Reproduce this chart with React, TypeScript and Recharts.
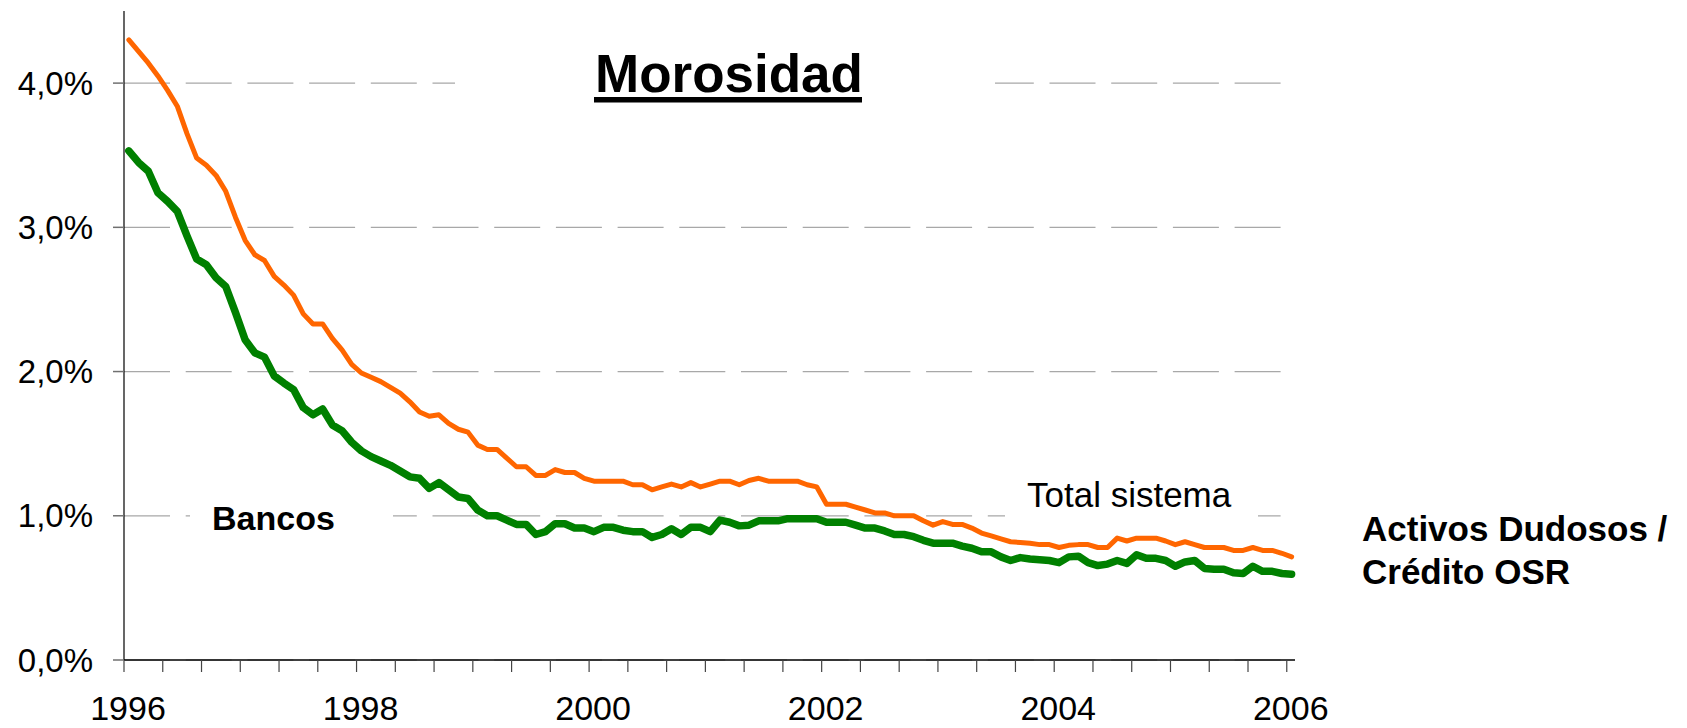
import { LineChart, Line, XAxis, YAxis, CartesianGrid } from 'recharts'

// morosidad mensual, ene-1996 .. ene-2006, en %
const bancos = [
  3.53, 3.45, 3.39, 3.24, 3.18, 3.11, 2.94, 2.78, 2.74, 2.65, 2.59, 2.41,
  2.22, 2.13, 2.10, 1.97, 1.92, 1.875, 1.75, 1.70, 1.74, 1.63, 1.59, 1.51,
  1.45, 1.41, 1.38, 1.35, 1.31, 1.27, 1.26, 1.19, 1.23, 1.18, 1.13, 1.12,
  1.04, 1.00, 1.00, 0.97, 0.94, 0.94, 0.87, 0.89, 0.945, 0.945, 0.915, 0.915,
  0.89, 0.92, 0.92, 0.90, 0.89, 0.89, 0.85, 0.87, 0.91, 0.87, 0.92, 0.92,
  0.89, 0.97, 0.955, 0.93, 0.935, 0.965, 0.965, 0.965, 0.98, 0.98, 0.98, 0.98,
  0.955, 0.955, 0.955, 0.935, 0.915, 0.915, 0.895, 0.87, 0.87, 0.855, 0.83, 0.81,
  0.81, 0.81, 0.79, 0.775, 0.75, 0.75, 0.715, 0.69, 0.71, 0.70, 0.695, 0.69,
  0.675, 0.715, 0.72, 0.675, 0.655, 0.665, 0.69, 0.67, 0.73, 0.705, 0.705, 0.69,
  0.65, 0.68, 0.69, 0.635, 0.63, 0.63, 0.605, 0.60, 0.65, 0.615, 0.615, 0.60,
  0.595,
]

const totalSistema = [
  4.30, 4.22, 4.14, 4.05, 3.95, 3.84, 3.65, 3.48, 3.43, 3.36, 3.25, 3.07,
  2.91, 2.81, 2.77, 2.66, 2.60, 2.53, 2.40, 2.33, 2.33, 2.23, 2.15, 2.05,
  1.99, 1.96, 1.93, 1.89, 1.85, 1.79, 1.72, 1.69, 1.70, 1.64, 1.60, 1.58,
  1.49, 1.46, 1.46, 1.40, 1.34, 1.34, 1.28, 1.28, 1.32, 1.30, 1.30, 1.26,
  1.24, 1.24, 1.24, 1.24, 1.215, 1.215, 1.18, 1.20, 1.22, 1.20, 1.23, 1.20,
  1.22, 1.24, 1.24, 1.215, 1.245, 1.26, 1.24, 1.24, 1.24, 1.24, 1.215, 1.20,
  1.08, 1.08, 1.08, 1.06, 1.04, 1.02, 1.02, 1.00, 1.00, 1.00, 0.965, 0.935,
  0.96, 0.94, 0.94, 0.915, 0.88, 0.86, 0.84, 0.82, 0.815, 0.81, 0.80, 0.80,
  0.78, 0.795, 0.80, 0.80, 0.78, 0.78, 0.845, 0.825, 0.845, 0.845, 0.845, 0.825,
  0.80, 0.82, 0.80, 0.78, 0.78, 0.78, 0.76, 0.76, 0.78, 0.76, 0.76, 0.74,
  0.715,
]

const yearLabels = ['1996', '1998', '2000', '2002', '2004', '2006']
const yTicks = [0, 1, 2, 3, 4]

// x = meses desde ene-1996, punto a mitad de mes
const data = bancos.map((b, i) => ({ x: i + 0.5, bancos: b, total: totalSistema[i] }))
const xTicks = Array.from({ length: 31 }, (_, i) => i * 4)

const FONT = '"Liberation Sans", Arial, sans-serif'

function YearTick(props: any) {
  const { x, y, payload } = props
  const idx = payload.value / 24
  if (!Number.isInteger(idx)) return <g />
  return (
    <text x={x + 4} y={y + 48} textAnchor="middle" fontSize={34} fontFamily={FONT} fill="#000">
      {yearLabels[idx]}
    </text>
  )
}

export default function App() {
  return (
    <div style={{ position: 'absolute', left: 0, top: 0, width: 1687, height: 728, background: '#fff', fontFamily: FONT }}>
      <LineChart width={1687} height={728} data={data} margin={{ top: 11, right: 392, left: 0, bottom: 0 }}>
        <CartesianGrid
          vertical={false}
          horizontalValues={yTicks}
          stroke="#a8a8a8"
          strokeWidth={1.2}
          strokeDasharray="46 15.7"
        />
        <XAxis
          dataKey="x"
          type="number"
          domain={[0, 120.85]}
          ticks={xTicks}
          interval={0}
          height={68}
          tickSize={12}
          tickMargin={0}
          axisLine={{ stroke: '#000', strokeWidth: 1.5 }}
          tickLine={{ stroke: '#444', strokeWidth: 1.2 }}
          tick={YearTick}
        />
        <YAxis
          domain={[0, 4.5]}
          ticks={yTicks}
          width={124}
          tickSize={11}
          tickMargin={20}
          axisLine={{ stroke: '#000', strokeWidth: 1.2 }}
          tickLine={{ stroke: '#707070', strokeWidth: 1.5 }}
          tick={{ fontSize: 33, fill: '#000', fontFamily: FONT }}
          tickFormatter={(v: number) => v.toFixed(1).replace('.', ',') + '%'}
        />
        <Line
          dataKey="total"
          stroke="#ff6600"
          strokeWidth={5}
          dot={false}
          activeDot={false}
          strokeLinejoin="round"
          strokeLinecap="round"
          isAnimationActive={false}
        />
        <Line
          dataKey="bancos"
          stroke="#008000"
          strokeWidth={7.5}
          dot={false}
          activeDot={false}
          strokeLinejoin="round"
          strokeLinecap="round"
          isAnimationActive={false}
        />
      </LineChart>
      <svg width={1687} height={728} style={{ position: 'absolute', left: 0, top: 0, pointerEvents: 'none' }}>
        <rect x={455} y={55} width={540} height={58} fill="#fff" />
        <text x={595} y={91.7} fontSize={53} fontWeight="bold" fontFamily={FONT} fill="#000">Morosidad</text>
        <rect x={594} y={97} width={268} height={5.5} fill="#000" />
        <rect x={190} y={495} width={203} height={45} fill="#fff" />
        <text x={212} y={530} fontSize={34} fontWeight="bold" fontFamily={FONT} fill="#000">Bancos</text>
        <rect x={1005} y={478} width={253} height={46} fill="#fff" />
        <text x={1027} y={507} fontSize={35} fontFamily={FONT} fill="#000">Total sistema</text>
        <text x={1362} y={541} fontSize={35} fontWeight="bold" fontFamily={FONT} fill="#000">Activos Dudosos /</text>
        <text x={1362} y={584} fontSize={35} fontWeight="bold" fontFamily={FONT} fill="#000">Crédito OSR</text>
      </svg>
    </div>
  )
}
